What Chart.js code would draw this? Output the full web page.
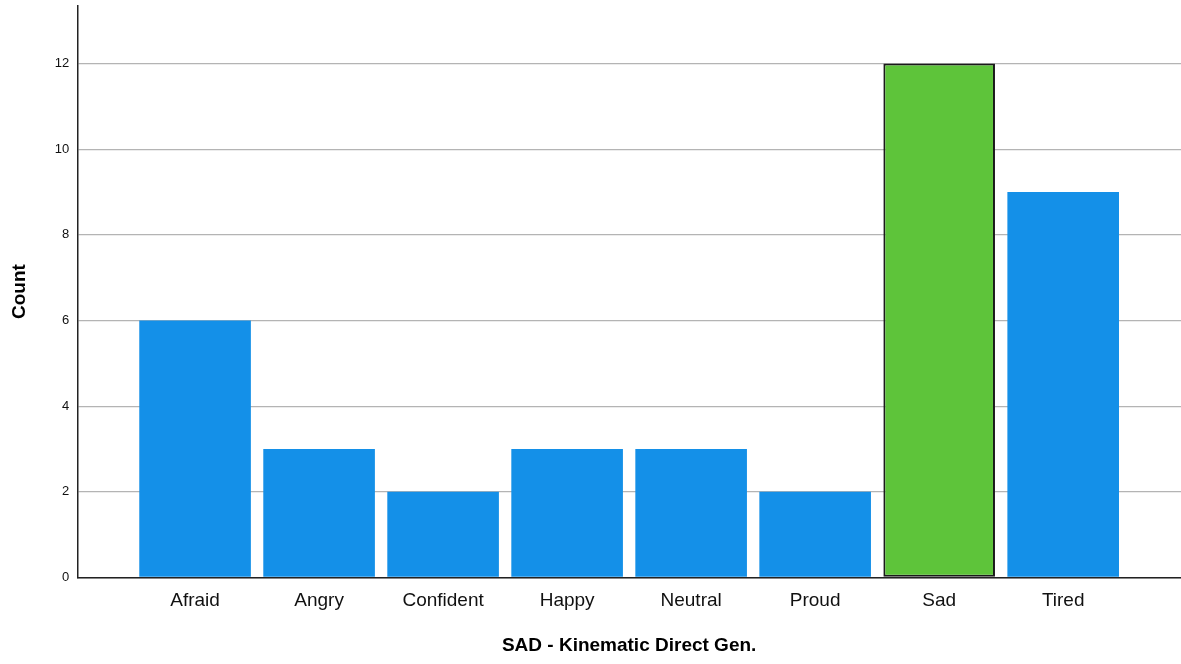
<!DOCTYPE html>
<html>
<head>
<meta charset="utf-8">
<script src="https://cdn.jsdelivr.net/npm/chart.js@4/dist/chart.umd.min.js"></script>
<style>
  html, body { margin: 0; padding: 0; background: #fff; overflow: hidden; }
  #wrap { width: 1181px; height: 674px; position: relative; margin-top: -10px; }
</style>
</head>
<body>
<div id="wrap"><canvas id="countChart"></canvas></div>
<script>
// Emotion counts for SAD - Kinematic Direct Gen.
const categories = ['Afraid', 'Angry', 'Confident', 'Happy', 'Neutral', 'Proud', 'Sad', 'Tired'];
const counts = [6, 3, 2, 3, 3, 2, 12, 9];
const highlight = 'Sad';
const yTicks = [0, 2, 4, 6, 8, 10, 12];

const blue = '#1490E8';
const green = '#5EC43A';

const ctx = document.getElementById('countChart');
new Chart(ctx, {
    type: 'bar',
    data: {
        datasets: [{
            data: counts.map((v, i) => ({ x: i + 1, y: v })),
            backgroundColor: categories.map(c => c === highlight ? green : blue),
            borderColor: categories.map(c => c === highlight ? '#1a1a1a' : blue),
            borderWidth: categories.map(c => c === highlight ? 2 : 0),
            borderSkipped: false,
            barPercentage: 0.9,
            categoryPercentage: 1.0
        }]
    },
    options: {
        responsive: true,
        maintainAspectRatio: false,
        animation: false,
        layout: { padding: { top: 0, right: 0, left: 8, bottom: 7 } },
        plugins: {
            legend: { display: false },
            tooltip: { enabled: false }
        },
        scales: {
            x: {
                type: 'linear',
                offset: false,
                min: 0.05,
                max: 8.95,
                grid: { display: false, drawTicks: false, offset: false },
                border: { display: true, color: '#222', width: 1.5 },
                afterBuildTicks: axis => {
                    axis.ticks = categories.map((_, i) => ({ value: i + 1 }));
                },
                ticks: {
                    padding: 12,
                    maxRotation: 0,
                    autoSkip: false,
                    color: '#111',
                    font: { family: 'Liberation Sans, Arial, sans-serif', size: 19 },
                    callback: v => categories[v - 1] || ''
                },
                title: {
                    display: true,
                    text: 'SAD - Kinematic Direct Gen.',
                    color: '#000',
                    font: { family: 'Liberation Sans, Arial, sans-serif', size: 19, weight: 'bold' },
                    padding: { top: 10, bottom: 0 }
                }
            },
            y: {
                min: 0,
                max: 13.35,
                grid: { color: '#b4b4b4', lineWidth: 1.2, drawTicks: false },
                border: { display: true, color: '#222', width: 1.5 },
                afterBuildTicks: axis => {
                    axis.ticks = yTicks.map(v => ({ value: v }));
                },
                ticks: {
                    padding: 8,
                    color: '#111',
                    font: { family: 'Liberation Sans, Arial, sans-serif', size: 13 }
                },
                title: {
                    display: true,
                    text: 'Count',
                    color: '#000',
                    font: { family: 'Liberation Sans, Arial, sans-serif', size: 19, weight: 'bold' },
                    padding: { top: 0, bottom: 16 }
                }
            }
        }
    }
});
</script>
</body>
</html>
